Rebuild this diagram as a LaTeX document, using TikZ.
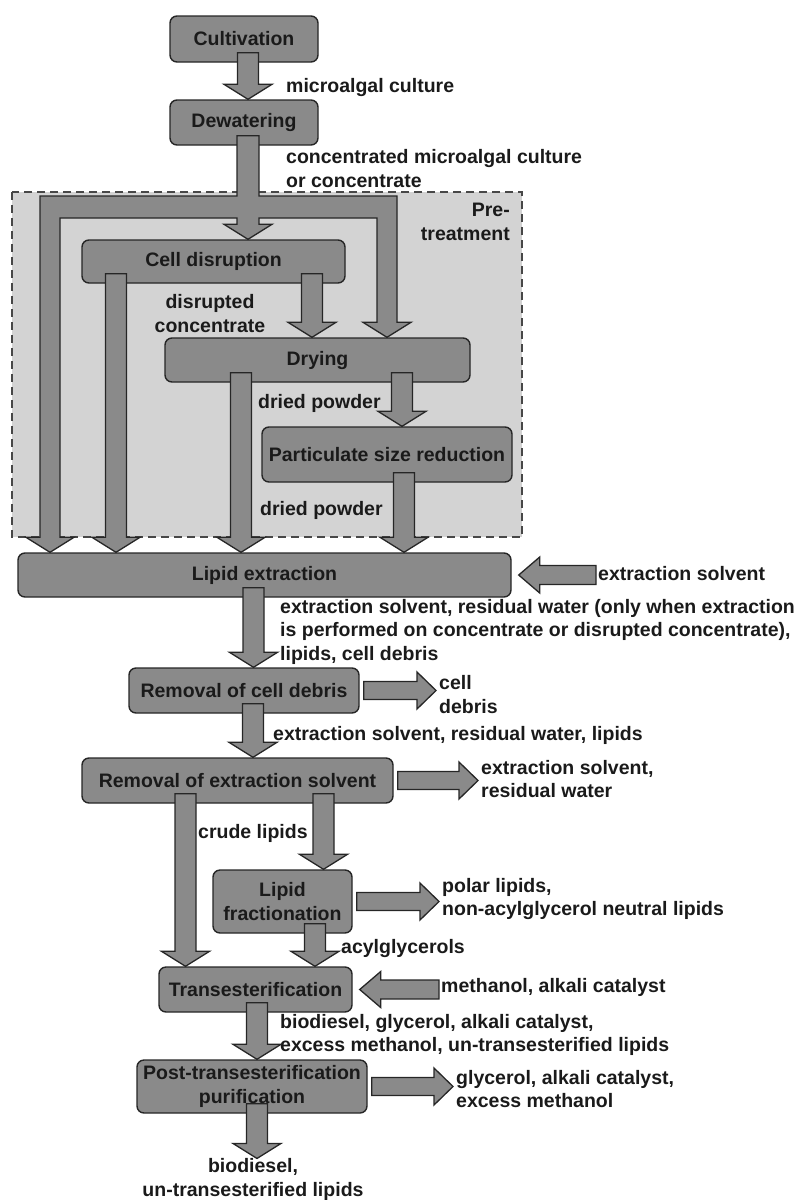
\documentclass[tikz,border=0pt]{standalone}
\usepackage{fontspec}
\setmainfont{Liberation Sans}
\usetikzlibrary{calc}
\definecolor{color_flow_box}{HTML}{8A8A8A}
\definecolor{color_flow_line}{HTML}{262626}
\definecolor{color_flow_text}{HTML}{1A1A1A}
\definecolor{color_pretreat_bg}{HTML}{D3D3D3}

\tikzset{
    procbox/.style={draw=color_flow_line, fill=color_flow_box, line width=1.4pt, rounded corners=7pt, align=center, inner sep=0pt, text=color_flow_text},
    flowarrow/.style={draw=color_flow_line, fill=color_flow_box, line width=1.3pt},
    flowlabel/.style={anchor=west, align=left, inner sep=0pt, text=color_flow_text},
    pretreat/.style={draw=color_flow_line!85, fill=color_pretreat_bg, line width=1.3pt, dash pattern=on 8pt off 5pt},
}
% fat arrow going down out of a box, tip on the top of the next one
\newcommand{\downflow}[3][0pt]{%
    \path[flowarrow] let \p1=([xshift=#1,yshift=10pt]#2.south), \p2=(#3.north) in
        (\x1-10.5pt,\y1) -- (\x1-10.5pt,\y2+15pt) -- (\x1-24pt,\y2+15pt) -- (\x1,\y2)
        -- (\x1+24pt,\y2+15pt) -- (\x1+10.5pt,\y2+15pt) -- (\x1+10.5pt,\y1) -- cycle;}
% fat arrow leaving a box to the right
\newcommand{\rightflow}[2]{%
    \path[flowarrow] let \p1=([xshift=4pt]#1.east), \p2=([xshift=-3pt]#2.west) in
        (\x1,\y1+9pt) -- (\x2-19pt,\y1+9pt) -- (\x2-19pt,\y1+18.5pt) -- (\x2,\y1)
        -- (\x2-19pt,\y1-18.5pt) -- (\x2-19pt,\y1-9pt) -- (\x1,\y1-9pt) -- cycle;}
% fat arrow coming into a box from the right
\newcommand{\leftflow}[2]{%
    \path[flowarrow] let \p1=([xshift=-2pt]#1.west), \p2=([xshift=7pt]#2.east) in
        (\x1,\y2+9.5pt) -- (\x2+21pt,\y2+9.5pt) -- (\x2+21pt,\y2+18pt) -- (\x2,\y2)
        -- (\x2+21pt,\y2-18pt) -- (\x2+21pt,\y2-9.5pt) -- (\x1,\y2-9.5pt) -- cycle;}

\begin{document}
\begin{tikzpicture}[x=1pt, y=-1pt, font=\bfseries\fontsize{19.5}{23.5}\selectfont]
            \useasboundingbox (0,0) rectangle (799,1200);
            % pre-treatment area
            \draw[pretreat] (12,192) rectangle (522,537);
            \node[flowlabel, anchor=east, align=right] (lblpre) at (510,222) {Pre-\\treatment};

            % process steps
            \node[procbox, minimum width=148pt, minimum height=46pt] (cult) at (244,39) {Cultivation};
            \node[procbox, minimum width=148pt, minimum height=45pt] (dew) at (244,122.5) {Dewatering};
            \node[procbox, minimum width=263pt, minimum height=43pt] (cell) at (213.5,261.5) {Cell disruption};
            \node[procbox, minimum width=305pt, minimum height=44pt] (drying) at (317.5,360) {Drying};
            \node[procbox, minimum width=250pt, minimum height=55pt] (psr) at (387,454.5) {Particulate size reduction};
            \node[procbox, minimum width=493pt, minimum height=44pt] (lipid) at (264.5,575) {Lipid extraction};
            \node[procbox, minimum width=230pt, minimum height=45pt] (rcd) at (244,690.5) {Removal of cell debris};
            \node[procbox, minimum width=311pt, minimum height=45pt] (res) at (237.5,780.5) {Removal of extraction solvent};
            \node[procbox, minimum width=139pt, minimum height=63pt] (frac) at (282.5,901.5) {Lipid\\fractionation};
            \node[procbox, minimum width=193pt, minimum height=45pt] (trans) at (255.5,989.5) {Transesterification};
            \node[procbox, minimum width=230pt, minimum height=53pt] (post) at (252,1086.5) {Post-transesterification\\purification};

            % streams
            \node[flowlabel] (lblculture) at (286,87) {microalgal culture};
            \node[flowlabel] (lblconc) at (286,168.5) {concentrated microalgal culture\\or concentrate};
            \node[flowlabel, anchor=center, align=center] (lbldisr) at (210,313.5) {disrupted\\concentrate};
            \node[flowlabel] (lbldryA) at (258,403) {dried powder};
            \node[flowlabel] (lbldryB) at (260,510) {dried powder};
            \node[flowlabel] (solvin) at (598,574) {extraction solvent};
            \node[flowlabel] (lblextract) at (280,631.5) {extraction solvent, residual water (only when extraction\\is performed on concentrate or disrupted concentrate),\\lipids, cell debris};
            \node[flowlabel] (debris) at (439,694.5) {cell\\debris};
            \node[flowlabel] (lblsolvwater) at (273,735) {extraction solvent, residual water, lipids};
            \node[flowlabel] (solvout) at (481,779) {extraction solvent,\\residual water};
            \node[flowlabel] (lblcrude) at (198,833) {crude lipids};
            \node[flowlabel] (polar) at (442,899) {polar lipids,\\non-acylglycerol neutral lipids};
            \node[flowlabel] (lblacyl) at (341,948) {acylglycerols};
            \node[flowlabel] (methin) at (441,987) {methanol, alkali catalyst};
            \node[flowlabel] (lblbio) at (280,1035) {biodiesel, glycerol, alkali catalyst,\\excess methanol, un-transesterified lipids};
            \node[flowlabel] (glyc) at (456,1089) {glycerol, alkali catalyst,\\excess methanol};
            \node[flowlabel, anchor=center, align=center] (out) at (253,1179.5) {biodiesel,\\un-transesterified lipids};

            % the split pipe after dewatering
            \coordinate (pipeL) at (50,207);
            \coordinate (pipeR) at (387,207);
            \path[flowarrow] let \p1=([xshift=4pt,yshift=10pt]dew.south), \p2=(pipeL), \p3=(pipeR),
                \p4=(cell.north), \p5=(drying.north), \p6=(lipid.north) in
                (\x1-11pt,\y1) -- (\x1-11pt,\y2+11pt) -- (\x2-10pt,\y2+11pt)
                -- (\x2-10pt,\y6+15pt) -- (\x2-24pt,\y6+15pt) -- (\x2,\y6) -- (\x2+24pt,\y6+15pt) -- (\x2+10pt,\y6+15pt)
                -- (\x2+10pt,\y2-11pt) -- (\x1-11pt,\y2-11pt)
                -- (\x1-11pt,\y4+15pt) -- (\x1-24pt,\y4+15pt) -- (\x1,\y4) -- (\x1+24pt,\y4+15pt) -- (\x1+11pt,\y4+15pt)
                -- (\x1+11pt,\y2-11pt) -- (\x3-10pt,\y2-11pt)
                -- (\x3-10pt,\y5+15pt) -- (\x3-24pt,\y5+15pt) -- (\x3,\y5) -- (\x3+24pt,\y5+15pt) -- (\x3+10pt,\y5+15pt)
                -- (\x3+10pt,\y2+11pt) -- (\x1+11pt,\y2+11pt) -- (\x1+11pt,\y1) -- cycle;

            \downflow[4pt]{cult}{dew}
            \downflow[-97.5pt]{cell}{lipid}
            \downflow[98.5pt]{cell}{drying}
            \downflow[-76.5pt]{drying}{lipid}
            \downflow[84.5pt]{drying}{psr}
            \downflow[17pt]{psr}{lipid}
            \downflow[-11pt]{lipid}{rcd}
            \downflow[9pt]{rcd}{res}
            \downflow[-52pt]{res}{trans}
            \downflow[86pt]{res}{frac}
            \downflow[32.5pt]{frac}{trans}
            \downflow[1.5pt]{trans}{post}
            \downflow[5pt]{post}{out}
            % side streams
            \leftflow{solvin}{lipid}
            \rightflow{rcd}{debris}
            \rightflow{res}{solvout}
            \rightflow{frac}{polar}
            \leftflow{methin}{trans}
            \rightflow{post}{glyc}
\end{tikzpicture}
\end{document}
